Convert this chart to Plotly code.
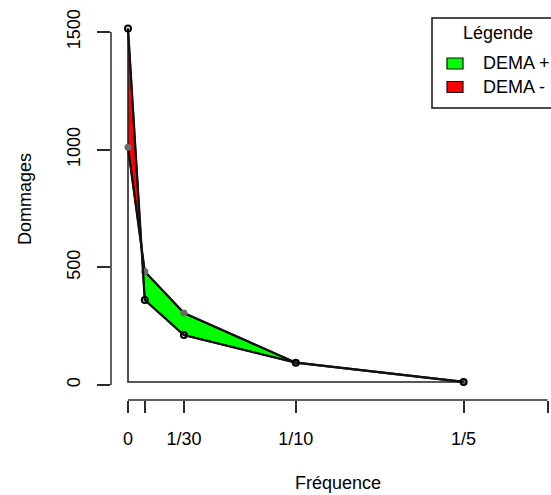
import plotly.graph_objects as go

# Frequencies (x) and damage values for the two scenarios
freq = [0, 1 / 100, 1 / 30, 1 / 10, 1 / 5]
dommages_sans = [1515, 361, 212, 95, 13]   # black open markers
dommages_avec = [1010, 482, 306, 95, 13]   # grey markers

x_tickvals = [0, 1 / 100, 1 / 30, 1 / 10, 1 / 5, 1 / 4]
x_ticktext = ["0", "", "1/30", "1/10", "1/5", ""]
y_tickvals = [0, 500, 1000, 1500]
y_ticktext = ["0", "500", "1000", "1500"]

legend_labels = ["DEMA +", "DEMA -"]
legend_colors = ["#00ff00", "#ff0000"]

W, H = 551, 495
ML, MR, MT, MB = 111, 0, 13, 95
PW, PH = W - ML - MR, H - MT - MB
FONT = "Liberation Sans, Arial, Helvetica, sans-serif"
FS = 18
AX = "#2b2b2b"


def px_x(p):
    return (p - ML) / PW


def px_y(p):
    return (H - MB - p) / PH


# crossing point of the two curves between the first two frequencies
d0 = dommages_sans[0] - dommages_avec[0]
d1 = dommages_sans[1] - dommages_avec[1]
t = d0 / (d0 - d1)
xc = freq[0] + t * (freq[1] - freq[0])
yc = dommages_sans[0] + t * (dommages_sans[1] - dommages_sans[0])

fig = go.Figure()

# red band: first curve above second
fig.add_trace(go.Scatter(
    x=[freq[0], xc, freq[0]],
    y=[dommages_sans[0], yc, dommages_avec[0]],
    fill="toself", fillcolor="#ff0000", mode="lines",
    line=dict(color="#111111", width=1.8), hoverinfo="skip", showlegend=False))

# green band: second curve above first
gx = [xc] + freq[1:4] + freq[1:3][::-1] + [xc]
gy = [yc] + dommages_avec[1:4] + dommages_sans[1:3][::-1] + [yc]
fig.add_trace(go.Scatter(
    x=gx, y=gy, fill="toself", fillcolor="#00ff00", mode="lines",
    line=dict(color="#111111", width=1.8), hoverinfo="skip", showlegend=False))

# outline along x=0 and the lowest damage level
fig.add_trace(go.Scatter(
    x=[0, 0, freq[-1]],
    y=[dommages_sans[0], dommages_sans[-1], dommages_sans[-1]],
    mode="lines", line=dict(color="#222222", width=1.6),
    hoverinfo="skip", showlegend=False))

# curves with their markers
fig.add_trace(go.Scatter(
    x=freq, y=dommages_avec, mode="lines+markers",
    line=dict(color="#111111", width=2.2),
    marker=dict(symbol="circle", size=7, color="#6a6a6a", line=dict(width=0)),
    showlegend=False))
fig.add_trace(go.Scatter(
    x=freq, y=dommages_sans, mode="lines+markers",
    line=dict(color="#111111", width=2.2),
    marker=dict(symbol="circle-open", size=6, color="#000000", line=dict(width=2)),
    showlegend=False))

x_per_px = 1 / 1678.0
y_per_px = 1 / 0.23533
x0 = -(128 - ML) * x_per_px
x1 = (W - MR - 128) * x_per_px
y0 = -(400 - 385) * y_per_px
y1 = (385 - MT) * y_per_px

shapes = [
    # axis lines spanning only the tick range
    dict(type="line", xref="x", yref="paper", x0=0, x1=1 / 4, y0=0, y1=0,
         line=dict(color=AX, width=1.5)),
    dict(type="line", xref="paper", yref="y", x0=0, x1=0, y0=0, y1=1500,
         line=dict(color=AX, width=1.5)),
    # legend frame
    dict(type="rect", xref="paper", yref="paper",
         x0=px_x(432), x1=px_x(564), y0=px_y(108), y1=px_y(18),
         line=dict(color="#111111", width=1.5), fillcolor="rgba(0,0,0,0)"),
]
annotations = [
    dict(text="Légende", xref="paper", yref="paper", x=px_x(498), y=px_y(33),
         xanchor="center", yanchor="middle", showarrow=False,
         font=dict(family=FONT, size=FS, color="#000")),
    dict(text="Fréquence", xref="paper", yref="paper", x=0.5 * (px_x(111) + px_x(565)),
         y=px_y(483), xanchor="center", yanchor="middle", showarrow=False,
         font=dict(family=FONT, size=FS, color="#000")),
    dict(text="Dommages", xref="paper", yref="paper", x=px_x(25), y=px_y(199),
         xanchor="center", yanchor="middle", textangle=-90, showarrow=False,
         font=dict(family=FONT, size=FS, color="#000")),
]
for i, (lab, col) in enumerate(zip(legend_labels, legend_colors)):
    cy = 63.5 + i * 23.5
    shapes.append(dict(type="rect", xref="paper", yref="paper",
                       x0=px_x(447), x1=px_x(463), y0=px_y(cy + 5.5), y1=px_y(cy - 5.5),
                       line=dict(color="#111111", width=1.2), fillcolor=col))
    annotations.append(dict(text=lab, xref="paper", yref="paper", x=px_x(481), y=px_y(cy),
                            xanchor="left", yanchor="middle", showarrow=False,
                            font=dict(family=FONT, size=FS, color="#000")))

fig.update_layout(
    width=W, height=H,
    margin=dict(l=ML, r=MR, t=MT, b=MB, pad=0),
    plot_bgcolor="white", paper_bgcolor="white",
    shapes=shapes, annotations=annotations,
    font=dict(family=FONT, size=FS, color="#000"),
    xaxis=dict(range=[x0, x1], tickmode="array", tickvals=x_tickvals, ticktext=x_ticktext,
               showgrid=False, zeroline=False, showline=False,
               ticks="outside", ticklen=12, tickwidth=1.5, tickcolor=AX,
               ticklabelstandoff=10, fixedrange=True),
    yaxis=dict(range=[y0, y1], tickmode="array", tickvals=y_tickvals, ticktext=y_ticktext,
               showgrid=False, zeroline=False, showline=False,
               ticks="outside", ticklen=13, tickwidth=1.5, tickcolor=AX,
               tickangle=-90, ticklabelstandoff=10, fixedrange=True),
)

fig.write_html("out.html")
